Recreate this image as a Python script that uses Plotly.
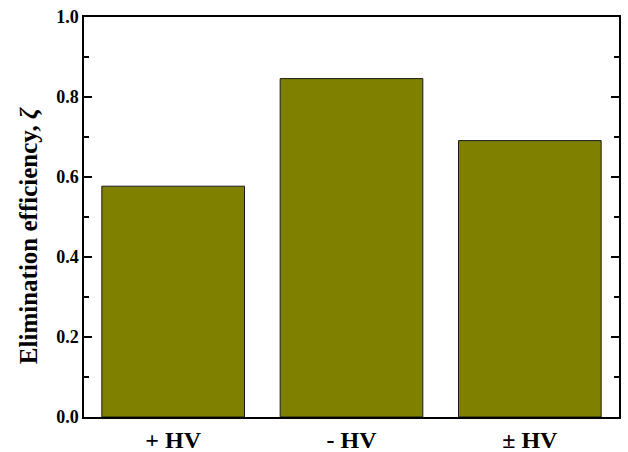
import plotly.graph_objects as go

categories = ["+ HV", "- HV", "± HV"]
efficiency = [0.577, 0.846, 0.691]
y_title = "Elimination efficiency, <i>ζ</i>"

fig = go.Figure()
fig.add_trace(go.Bar(
    x=categories, y=efficiency, width=0.8,
    marker=dict(color="#808000", line=dict(color="#1a1a1a", width=1)),
))

font = dict(family="Liberation Serif, Times New Roman, serif", size=17, color="black")

fig.update_layout(
    width=628, height=452,
    margin=dict(l=84, r=9, t=17, b=35),
    paper_bgcolor="white", plot_bgcolor="white",
    showlegend=False,
    font=font,
    xaxis=dict(
        range=[-0.5, 2.5], showline=True, linecolor="black", linewidth=1.5,
        mirror=True, ticks="", showgrid=False, automargin=False,
        tickfont=dict(family="Liberation Serif", size=24, color="black", weight="bold"),
    ),
    yaxis=dict(
        range=[0, 1.0], dtick=0.2, tick0=0, tickformat=".1f",
        showline=True, linecolor="black", linewidth=1.5, mirror="allticks",
        ticks="inside", ticklen=8, tickwidth=1.5, tickcolor="black",
        minor=dict(dtick=0.1, ticks="inside", ticklen=5, tickwidth=1.5, tickcolor="black"),
        showgrid=False, zeroline=False, automargin=False,
        tickfont=dict(family="Liberation Serif", size=18, color="black", weight="bold"),
    ),
    annotations=[dict(
        text=y_title, textangle=-90, showarrow=False,
        xref="paper", yref="paper", x=-0.104, y=0.453,
        xanchor="center", yanchor="middle",
        font=dict(family="Liberation Serif", size=25, color="black", weight="bold"),
    )],
)

fig.write_html("out.html", config={"displayModeBar": False},
               post_script="document.body.style.margin='0';document.body.style.overflow='hidden';")
